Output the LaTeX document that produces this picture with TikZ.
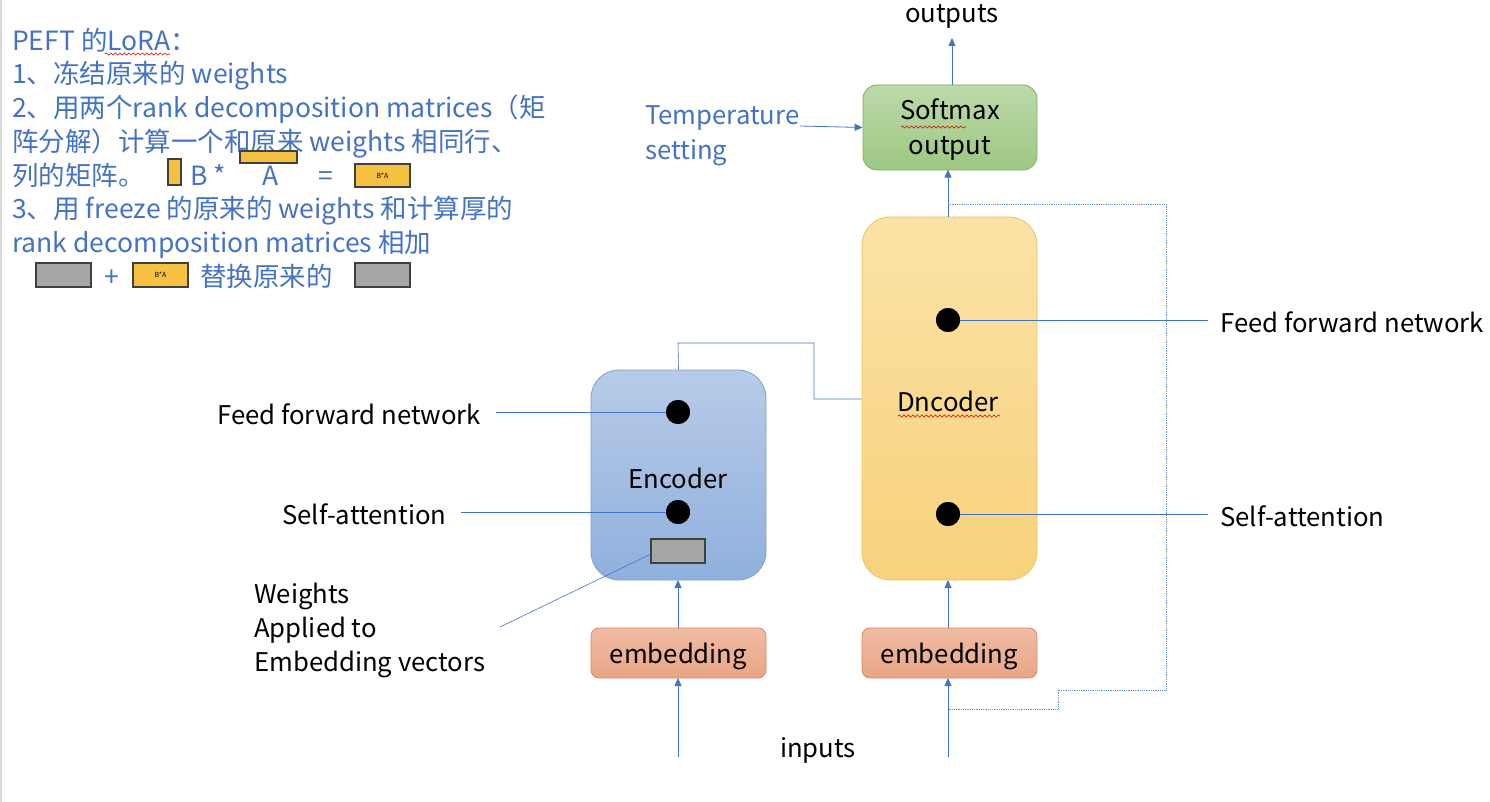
\documentclass[tikz,border=0pt]{standalone}
\usepackage{fontspec}
\setmainfont{Noto Sans CJK SC}
\usetikzlibrary{arrows.meta,decorations.pathmorphing}
\definecolor{lblue}{HTML}{4472C4}
\definecolor{encT}{HTML}{B9CBE9}
\definecolor{encB}{HTML}{8FB0DD}
\definecolor{encD}{HTML}{7E9FCF}
\definecolor{decT}{HTML}{FBE2A6}
\definecolor{decB}{HTML}{F8D27C}
\definecolor{decD}{HTML}{F2C25A}
\definecolor{smT}{HTML}{BDDAA9}
\definecolor{smB}{HTML}{9DC783}
\definecolor{smD}{HTML}{7DB05E}
\definecolor{emT}{HTML}{F0BCA4}
\definecolor{emB}{HTML}{E9A585}
\definecolor{emD}{HTML}{D9895F}
\definecolor{orgF}{HTML}{F6C143}
\definecolor{grF}{HTML}{A6A6A6}
\begin{document}
\begin{tikzpicture}[x=1pt,y=-1pt,
  note/.style={anchor=base west,inner sep=0pt,text=lblue,font=\fontsize{26.5}{30}\selectfont},
  lbl/.style={inner sep=0pt,text=black,font=\fontsize{25.7}{30}\selectfont},
  blk/.style={draw,rounded corners=28pt,line width=0.8pt},
  emb/.style={draw=emD,rounded corners=8pt,top color=emT,bottom color=emB,line width=0.8pt,minimum width=175pt,minimum height=50pt,inner sep=0pt,font=\fontsize{25.7}{30}\selectfont},
  arr/.style={draw=lblue,line width=0.8pt,-{Triangle[length=8pt,width=7pt]}},
  ln/.style={draw=lblue,line width=0.6pt},
  dot/.style={circle,fill=black,minimum size=24pt,inner sep=0pt},
  orect/.style={draw=black!75,fill=orgF,line width=1.2pt,inner sep=0pt},
  grect/.style={draw=black!75,fill=grF,line width=1.2pt,inner sep=0pt},
  wavy/.style={draw=red!85!black,line width=0.6pt,decorate,decoration={snake,amplitude=1.1pt,segment length=4.5pt}}
]
\useasboundingbox (0,0) rectangle (1490,802);
\fill[white] (0,0) rectangle (1490,802);
\draw[black!15,line width=1.5pt] (1,0) -- (1,802);

% left notes
\node[note] (n1) at (12,51) {PEFT 的LoRA：};
\node[note] (n2) at (12,84) {1、冻结原来的 weights};
\node[note] (n3) at (12,118) {2、用两个rank decomposition matrices（矩};
\node[note] (n4) at (12,152) {阵分解）计算一个和原来 weights 相同行、};
\node[note] (n5) at (12,186) {列的矩阵。};
\node[note] (n5b) at (190,186) {B *};
\node[note] (n5c) at (262,186) {A};
\node[note] (n5d) at (318,186) {=};
\node[note] (n6) at (12,219) {3、用 freeze 的原来的 weights 和计算厚的};
\node[note] (n7) at (12,252) {rank decomposition matrices 相加};
\node[note] (n8a) at (104,286) {+};
\node[note] (n8b) at (200,286) {替换原来的};
\draw[wavy] (105,54) -- (170,54);
\draw[orect] (168,159) rectangle (181,185);
\draw[orect] (240,151) rectangle (297,163);
\draw[orect] (355,164) rectangle (410,187);
\node[inner sep=0pt,font=\fontsize{7}{8}\selectfont] (ba1) at (382.5,175.5) {B*A};
\draw[grect] (36,263) rectangle (91,287);
\draw[orect] (133,263) rectangle (188,287);
\node[inner sep=0pt,font=\fontsize{7}{8}\selectfont] (ba2) at (160.5,275) {B*A};
\draw[grect] (355,263) rectangle (410,287);

% softmax
\node[draw=smD,rounded corners=14pt,top color=smT,bottom color=smB,line width=0.8pt,minimum width=174pt,minimum height=85pt,inner sep=0pt] (sm) at (950,127.5) {};
\node[inner sep=0pt,align=center,font=\fontsize{25.7}{35}\selectfont] (smtxt) at (950,130) {Softmax\\output};
\draw[wavy] (901,127) -- (966,127);
\node[lbl] (out) at (952,17) {outputs};
\coordinate (outtip) at (952,38);
\draw[arr] (sm.north -| outtip) -- (outtip);
\node[lbl,text=lblue,align=left,anchor=west,font=\fontsize{25.7}{35}\selectfont] (temp) at (645,136) {Temperature\\setting};
\draw[arr] (800,126) -- (sm.west);

% decoder
\node[blk,draw=decD,top color=decT,bottom color=decB,minimum width=175pt,minimum height=363pt,inner sep=0pt] (dec) at (949.5,398.5) {};
\node[lbl] (dectxt) at (948,401) {Dncoder};
\draw[wavy] (898,416) -- (1000,416);
\node[dot] (dd1) at (948,320) {};
\node[dot] (dd2) at (948,514) {};
\coordinate (dr1) at (1208,320);
\coordinate (dr2) at (1208,514);
\draw[ln] (dd1.center) -- (dr1);
\draw[ln] (dd2.center) -- (dr2);
\node[dot] at (948,320) {};
\node[dot] at (948,514) {};
\node[lbl,anchor=west] (dffn) at (1220,322) {Feed forward network};
\node[lbl,anchor=west] (dsa) at (1220,516) {Self-attention};
\draw[arr] (dec.north -| sm.south) ++(-2,0) -- ++(0,-47);

% decoder embedding
\node[emb] (demb) at (949.5,653) {};
\node[lbl] (demt) at (949.5,656) {embedding};
\draw[arr] (948,628) -- (948,580);
\coordinate (din) at (948,757);
\draw[arr] (din) -- (948,678);

% encoder
\node[blk,draw=encD,top color=encT,bottom color=encB,minimum width=175pt,minimum height=210pt,inner sep=0pt] (enc) at (678.5,475) {};
\node[lbl] (enctxt) at (678,478) {Encoder};
\node[dot] (ed1) at (678,412) {};
\node[dot] (ed2) at (678,512) {};
\node[grect,minimum width=54pt,minimum height=24pt] (w) at (678,551) {};
\node[emb] (eemb) at (678.5,653) {};
\node[lbl] (eemt) at (678.5,656) {embedding};
\draw[arr] (678,628) -- (678,580);
\coordinate (ein) at (678,757);
\draw[arr] (ein) -- (678,678);

% left labels
\node[lbl,anchor=west] (effn) at (217,414) {Feed forward network};
\node[lbl,anchor=west] (esa) at (282,514) {Self-attention};
\node[lbl,anchor=north west,align=left,font=\fontsize{25.7}{34}\selectfont] (wt) at (254,583) {Weights\\Applied to\\Embedding vectors};
\draw[ln] (496,412) -- (ed1.center);
\draw[ln] (461,512) -- (ed2.center);
\draw[ln] (500,627) -- (651,554);
\node[dot] at (678,412) {};
\node[dot] at (678,512) {};

\node[lbl] (inp) at (818,750) {inputs};

% encoder -> decoder link
\draw[ln] (enc.north) -- (678,343) -- (814,343) -- (814,399) -- (dec.west |- 0,399);

% dotted feedback
\draw[draw=lblue!80,line width=0.8pt,densely dotted] (948,204) -- (1166,204) -- (1166,690) -- (1058,690) -- (1058,709) -- (948,709);
\end{tikzpicture}
\end{document}
